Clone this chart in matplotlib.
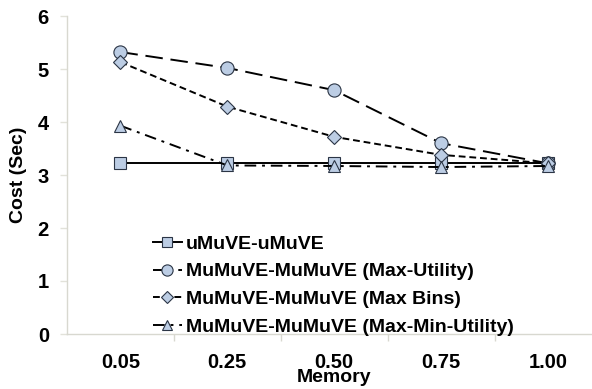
import numpy as np
import matplotlib.pyplot as plt

plt.rcParams['font.family'] = ['Liberation Sans', 'DejaVu Sans']
plt.rcParams['font.weight'] = 'bold'

memory = ['0.05', '0.25', '0.50', '0.75', '1.00']
umuve = [3.22, 3.22, 3.22, 3.22, 3.22]
max_utility = [5.32, 5.02, 4.60, 3.60, 3.22]
max_bins = [5.13, 4.29, 3.72, 3.38, 3.22]
max_min_utility = [3.93, 3.18, 3.17, 3.15, 3.17]

fig = plt.figure(figsize=(5.92, 3.89), dpi=100)
ax = fig.add_axes([67 / 592, 1 - 334 / 389, 534.5 / 592, 318 / 389])

x = np.arange(len(memory))
fill = '#bccde4'
edge = '#2b3545'
common = dict(markerfacecolor=fill, markeredgecolor=edge, markeredgewidth=0.8,
              color='black', linewidth=1.4)

ax.plot(x, umuve, '-', marker='s', markersize=9, label='uMuVE-uMuVE', **common)
ax.plot(x, max_utility, marker='o', markersize=9.5, dashes=(9, 4),
        label='MuMuVE-MuMuVE (Max-Utility)', **common)
ax.plot(x, max_bins, marker='D', markersize=7.5, dashes=(3.5, 2),
        label='MuMuVE-MuMuVE (Max Bins)', **common)
ax.plot(x, max_min_utility, marker='^', markersize=9, dashes=(6, 3, 1.5, 3),
        label='MuMuVE-MuMuVE (Max-Min-Utility)', **common)

ax.set_xlim(-0.5, len(memory) - 0.5)
ax.set_ylim(0, 6)
ax.set_yticks(range(0, 7))
ax.set_xticks(x)
ax.set_xticklabels(memory)
ax.set_xticks(np.arange(0.5, len(memory) - 0.5), minor=True)

for side in ['top', 'right']:
    ax.spines[side].set_visible(False)
for side in ['left', 'bottom']:
    ax.spines[side].set_color('#d8d8d0')
    ax.spines[side].set_linewidth(1.0)

ax.tick_params(axis='x', which='major', length=0, pad=14, labelsize=14.5)
ax.tick_params(axis='x', which='minor', length=5, color='#d8d8d0', width=1)
ax.tick_params(axis='y', length=5, color='#e2e2da', width=1, pad=8, labelsize=14.5)

ax.set_ylabel('Cost (Sec)', fontsize=14, fontweight='bold')
ax.yaxis.set_label_coords(-40 / 534.5, 0.5)
ax.set_xlabel('Memory', fontsize=14, fontweight='bold')
ax.xaxis.set_label_coords((334 - 67) / 534.5, -35 / 318)

leg = ax.legend(loc='lower left', bbox_to_anchor=(78 / 534.5, -0.03), frameon=False,
                fontsize=14, handlelength=1.5, handletextpad=0.2,
                labelspacing=0.52, borderaxespad=0, markerscale=0.85)
for t in leg.get_texts():
    t.set_fontweight('bold')

fig.savefig('out.png', dpi=100)
